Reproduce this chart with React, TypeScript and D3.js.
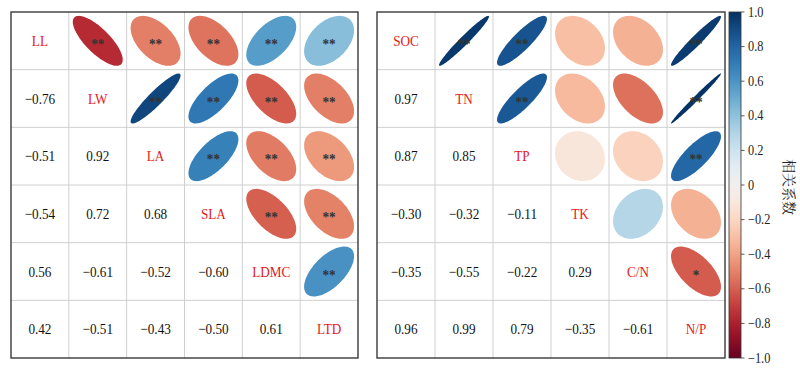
import * as d3 from "d3"

// left panel: leaf traits
const leftLabels = ["LL", "LW", "LA", "SLA", "LDMC", "LTD"]
const leftCorr = [
  [],
  [-0.76],
  [-0.51, 0.92],
  [-0.54, 0.72, 0.68],
  [0.56, -0.61, -0.52, -0.6],
  [0.42, -0.51, -0.43, -0.5, 0.61],
]
const leftSig = [
  [],
  ["**"],
  ["**", "**"],
  ["**", "**", "**"],
  ["**", "**", "**", "**"],
  ["**", "**", "**", "**", "**"],
]

// right panel: soil properties
const rightLabels = ["SOC", "TN", "TP", "TK", "C/N", "N/P"]
const rightCorr = [
  [],
  [0.97],
  [0.87, 0.85],
  [-0.3, -0.32, -0.11],
  [-0.35, -0.55, -0.22, 0.29],
  [0.96, 0.99, 0.79, -0.35, -0.61],
]
const rightSig = [
  [],
  ["**"],
  ["**", "**"],
  ["", "", ""],
  ["", "", "", ""],
  ["**", "**", "**", "", "*"],
]

const colorTicks = [1, 0.8, 0.6, 0.4, 0.2, 0, -0.2, -0.4, -0.6, -0.8, -1]

const WIDTH = 800
const HEIGHT = 373
const TOP = 12
const BOTTOM = 358
const SERIF = "'Liberation Serif', 'Times New Roman', serif"
const LABEL_RED = "#e41a1c"
const SQUEEZE = 0.88

const color = (r: number) => d3.interpolateRdBu((r + 1) / 2)
const fmt = d3.format(".2f")

// corrplot-style ellipse: x = cos(t + d/2), y = cos(t - d/2), d = acos(r)
function ellipsePath(r: number, s: number) {
  const d = Math.acos(Math.max(-1, Math.min(1, r)))
  const pts = d3.range(0, 2 * Math.PI + 0.001, Math.PI / 60).map(
    (t) => [s * Math.cos(t + d / 2), -s * Math.cos(t - d / 2)] as [number, number]
  )
  return d3.line().curve(d3.curveLinearClosed)(pts) ?? ""
}

type PanelProps = {
  labels: string[]
  corr: number[][]
  sig: string[][]
  x0: number
  x1: number
}

function Panel({ labels, corr, sig, x0, x1 }: PanelProps) {
  const xs = d3.scaleBand<string>().domain(labels).range([x0, x1])
  const ys = d3.scaleBand<string>().domain(labels).range([TOP, BOTTOM])
  const cw = xs.bandwidth()
  const ch = ys.bandwidth()
  const s = Math.min(cw, ch) * 0.433

  return (
    <g>
      {labels.slice(1).map((l) => (
        <g key={"g" + l}>
          <line x1={xs(l)} x2={xs(l)} y1={TOP} y2={BOTTOM} stroke="#cfcfcf" strokeWidth={1} />
          <line x1={x0} x2={x1} y1={ys(l)} y2={ys(l)} stroke="#cfcfcf" strokeWidth={1} />
        </g>
      ))}
      {labels.map((rowLabel, i) =>
        labels.map((colLabel, j) => {
          const cx = (xs(colLabel) ?? 0) + cw / 2
          const cy = (ys(rowLabel) ?? 0) + ch / 2
          if (i === j) {
            return (
              <text
                key={`${i}-${j}`}
                transform={`translate(${cx},${cy + 5}) scale(${SQUEEZE},1)`}
                textAnchor="middle"
                fontFamily={SERIF}
                fontSize={15}
                fill={LABEL_RED}
              >
                {rowLabel}
              </text>
            )
          }
          if (i > j) {
            return (
              <text
                key={`${i}-${j}`}
                transform={`translate(${cx},${cy + 5}) scale(${SQUEEZE},1)`}
                textAnchor="middle"
                fontFamily={SERIF}
                fontSize={15}
                fill="#111"
              >
                {fmt(corr[i][j])}
              </text>
            )
          }
          const r = corr[j][i]
          const star = sig[j][i]
          return (
            <g key={`${i}-${j}`} transform={`translate(${cx},${cy})`}>
              <path d={ellipsePath(r, s)} fill={color(r)} />
              {star ? (
                <text
                  transform={`translate(0,${8}) scale(${SQUEEZE},1)`}
                  textAnchor="middle"
                  fontFamily={SERIF}
                  fontSize={15}
                  fontWeight={700}
                  fill="#333"
                >
                  {star}
                </text>
              ) : null}
            </g>
          )
        })
      )}
      <rect
        x={x0}
        y={TOP}
        width={x1 - x0}
        height={BOTTOM - TOP}
        fill="none"
        stroke="#3a3a3a"
        strokeWidth={1.4}
      />
    </g>
  )
}

function ColorBar() {
  const x0 = 729
  const w = 12
  const y = d3.scaleLinear().domain([-1, 1]).range([BOTTOM, TOP])
  const stops = d3.range(0, 1.0001, 0.05)
  const tickFmt = (v: number) =>
    v === 0 ? "0" : d3.format(".1f")(v)

  return (
    <g>
      <defs>
        <linearGradient id="rdbu" x1="0" y1="1" x2="0" y2="0">
          {stops.map((t) => (
            <stop key={t} offset={`${t * 100}%`} stopColor={d3.interpolateRdBu(t)} />
          ))}
        </linearGradient>
      </defs>
      <rect x={x0} y={TOP} width={w} height={BOTTOM - TOP} fill="url(#rdbu)" stroke="#333" strokeWidth={0.8} />
      {colorTicks.map((v) => (
        <g key={v} transform={`translate(${x0 + w},${y(v)})`}>
          <line x1={0} x2={3.5} stroke="#333" strokeWidth={0.8} />
          <text
            transform={`translate(7,4.5) scale(${SQUEEZE},1)`}
            fontFamily={SERIF}
            fontSize={14}
            fill="#222"
          >
            {tickFmt(v)}
          </text>
        </g>
      ))}
      <text
        transform={`translate(784,${(TOP + BOTTOM) / 2 + 2}) rotate(90)`}
        textAnchor="middle"
        fontFamily="'Noto Serif CJK SC', 'Noto Sans CJK SC', serif"
        fontSize={14}
        fill="#222"
      >
        相关系数
      </text>
    </g>
  )
}

export default function App() {
  return (
    <svg
      width={WIDTH}
      height={HEIGHT}
      viewBox={`0 0 ${WIDTH} ${HEIGHT}`}
      style={{ position: "absolute", left: 0, top: 0, background: "#fff" }}
    >
      <rect width={WIDTH} height={HEIGHT} fill="#fff" />
      <Panel labels={leftLabels} corr={leftCorr} sig={leftSig} x0={11} x1={358} />
      <Panel labels={rightLabels} corr={rightCorr} sig={rightSig} x0={377} x1={725} />
      <ColorBar />
    </svg>
  )
}
